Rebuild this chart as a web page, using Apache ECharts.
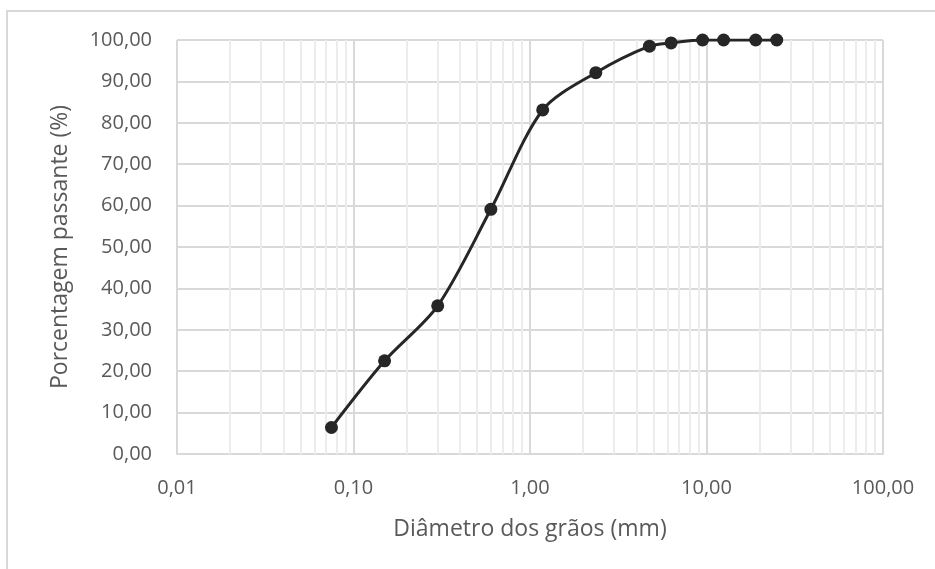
<!DOCTYPE html>
<html>
<head>
<meta charset="utf-8">
<script src="https://cdn.jsdelivr.net/npm/echarts@6/dist/echarts.min.js"></script>
<style>
html, body { margin: 0; padding: 0; background: #fff; }
#chart { width: 935px; height: 569px; }
</style>
</head>
<body>
<div id="chart"></div>
<script>
// granulometria
var diametros = [0.075, 0.15, 0.3, 0.6, 1.18, 2.36, 4.75, 6.3, 9.5, 12.5, 19, 25];
var passante = [6.4, 22.5, 35.8, 59.1, 83.1, 92.1, 98.5, 99.3, 100, 100, 100, 100];
var decadas = [0.01, 0.1, 1, 10];
var multiplicadores = [2, 3, 4, 5, 6, 7, 8, 9];

var myChart = echarts.init(document.getElementById('chart'));

function virgula(v) {
	return Number(v).toFixed(2).replace('.', ',');
}

var pontos = diametros.map(function (d, i) { return [d, passante[i]]; });

// linhas secundarias da grade (2..9 em cada decada)
var menores = [];
decadas.forEach(function (d) {
	multiplicadores.forEach(function (m) {
		menores.push({ xAxis: +(d * m).toPrecision(3) });
	});
});

var fonte = '"Open Sans", "Noto Sans", sans-serif';

var option = {
	animation: false,
	grid: { left: 177, right: 52, top: 40, bottom: 115 },
	graphic: [
		{
			type: 'polyline',
			silent: true,
			shape: { points: [[7, 569], [7, 11], [935, 11]] },
			style: { stroke: '#d9d9d9', lineWidth: 2, fill: null }
		}
	],
	xAxis: {
		type: 'log',
		logBase: 10,
		min: 0.01,
		max: 100,
		name: 'Diâmetro dos grãos (mm)',
		nameLocation: 'middle',
		nameGap: 64,
		nameTextStyle: { color: '#595959', fontSize: 23, fontFamily: fonte },
		axisLine: { show: true, lineStyle: { color: '#d9d9d9', width: 2 } },
		axisTick: { show: false },
		axisLabel: {
			color: '#595959', fontSize: 20, fontFamily: fonte, margin: 24,
			formatter: virgula
		},
		splitLine: { show: true, lineStyle: { color: '#d9d9d9', width: 2 } }
	},
	yAxis: {
		type: 'value',
		min: 0,
		max: 100,
		interval: 10,
		name: 'Porcentagem passante (%)',
		nameLocation: 'middle',
		nameGap: 105,
		nameTextStyle: { color: '#595959', fontSize: 23, fontFamily: fonte },
		axisLine: { show: false },
		axisTick: { show: false },
		axisLabel: {
			color: '#595959', fontSize: 20, fontFamily: fonte, margin: 25,
			formatter: virgula
		},
		splitLine: { show: true, lineStyle: { color: '#d9d9d9', width: 2 } }
	},
	series: [
		{
			name: 'grade',
			type: 'line',
			data: [],
			z: 1,
			silent: true,
			markLine: {
				silent: true,
				symbol: ['none', 'none'],
				label: { show: false },
				lineStyle: { color: '#ececec', width: 2, type: 'solid' },
				data: menores
			}
		},
		{
			name: 'Passante',
			type: 'line',
			z: 5,
			smooth: 0.3,
			data: pontos,
			symbol: 'circle',
			symbolSize: 13,
			itemStyle: { color: '#262626' },
			lineStyle: { color: '#262626', width: 3 }
		}
	]
};
myChart.setOption(option);
</script>
</body>
</html>
